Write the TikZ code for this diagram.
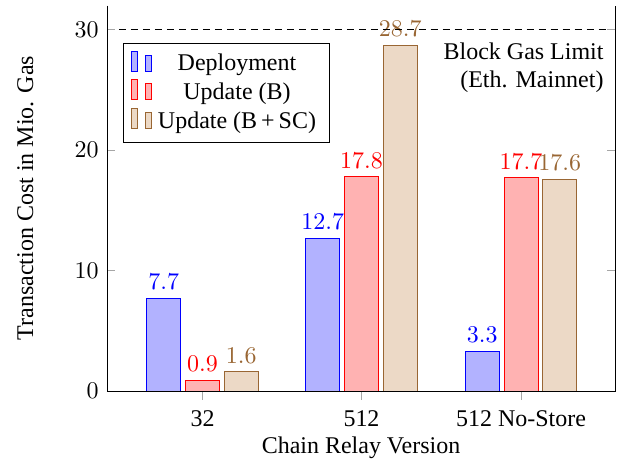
\documentclass[tikz,border=0pt]{standalone}
\usepackage[no-math]{fontspec}
\setmainfont{Liberation Serif}
\usepackage{xcolor}
\usepackage{amsmath}
\usepackage{tikz}

\colorlet{darkbrown}{brown!80!black}

\begin{document}
\begin{tikzpicture}[x=0.417pt, y=5.021pt,
    dep/.style={draw=blue, fill=blue!30},
    upb/.style={draw=red, fill=red!30},
    upsc/.style={draw=darkbrown, fill=brown!30},
    tk/.style={gray!70}]
    \useasboundingbox (0,-5.897) rectangle (622,32.475);

    % bars, x in pixels, y in Mio. Gas
    \draw[dep] (146.75,0) rectangle (180.75,7.7);
    \draw[upb] (185.5,0) rectangle (219.5,0.9);
    \draw[upsc] (224.25,0) rectangle (258.25,1.6);
    \draw[dep] (305.75,0) rectangle (339.75,12.7);
    \draw[upb] (344.5,0) rectangle (378.5,17.8);
    \draw[upsc] (383.25,0) rectangle (417.25,28.7);
    \draw[dep] (465.25,0) rectangle (499.25,3.3);
    \draw[upb] (504,0) rectangle (538,17.7);
    \draw[upsc] (542.75,0) rectangle (576.75,17.6);

    % values on top of the bars
    \node[blue] (v1) at (163.75,7.7) [above] {$7.7$};
    \node[red] (v2) at (202.5,0.9) [above] {$0.9$};
    \node[darkbrown] (v3) at (241.25,1.6) [above] {$1.6$};
    \node[blue] (v4) at (322.75,12.7) [above] {$12.7$};
    \node[red] (v5) at (361.5,17.8) [above] {$17.8$};
    \node[darkbrown] (v6) at (400.25,28.7) [above] {$28.7$};
    \node[blue] (v7) at (482.25,3.3) [above] {$3.3$};
    \node[red] (v8) at (521,17.7) [above] {$17.7$};
    \node[darkbrown] (v9) at (559.75,17.6) [above] {$17.6$};

    % block gas limit
    \draw[dash pattern=on 3pt off 2pt] (107,30) -- (615,30);
    \node[align=right, anchor=north east, inner sep=0pt] (limit) at (604,28.99)
        {Block Gas Limit\\(Eth. Mainnet)};

    % ticks
    \draw[tk] (107,10) -- (115,10);
    \draw[tk] (107,20) -- (115,20);
    \draw[tk] (107,30) -- (115,30);
    \draw[tk] (615,10) -- (607,10);
    \draw[tk] (615,20) -- (607,20);
    \draw[tk] (615,30) -- (607,30);
    \draw[tk] (202.5,0) -- (202.5,-0.75);
    \draw[tk] (361.5,0) -- (361.5,-0.75);
    \draw[tk] (521,0) -- (521,-0.75);

    % axis frame
    \draw (107,32) -- (107,0) -- (615,0) -- (615,32);

    % tick labels
    \node (y0) at (107,0) [left] {$0$};
    \node (y10) at (107,10) [left] {$10$};
    \node (y20) at (107,20) [left] {$20$};
    \node (y30) at (107,30) [left] {$30$};
    \node[anchor=base] (x1) at (202.5,-2.91) {32};
    \node[anchor=base] (x2) at (361.5,-2.91) {512};
    \node[anchor=base] (x3) at (521,-2.91) {512 No-Store};

    % axis labels
    \node[anchor=base] (xlabel) at (361,-5.15) {Chain Relay Version};
    \node[rotate=90, anchor=base] (ylabel) at (33,16.03) {Transaction Cost in Mio. Gas};

    % legend
    \draw[fill=white] (123,28.90) rectangle (329,20.68);
    \draw[dep] (131,26.58) rectangle (137,28.23);
    \draw[dep] (145,26.58) rectangle (151,27.88);
    \draw[upb] (131,24.21) rectangle (137,25.86);
    \draw[upb] (145,24.21) rectangle (151,25.51);
    \draw[upsc] (131,21.84) rectangle (137,23.49);
    \draw[upsc] (145,21.84) rectangle (151,23.14);
    \node[anchor=base] (ldep) at (237,26.58) {Deployment};
    \node[anchor=base] (lupb) at (237,24.21) {Update (B)};
    \node[anchor=base] (lupsc) at (237,21.84) {Update (B\,+\,SC)};
\end{tikzpicture}
\end{document}
